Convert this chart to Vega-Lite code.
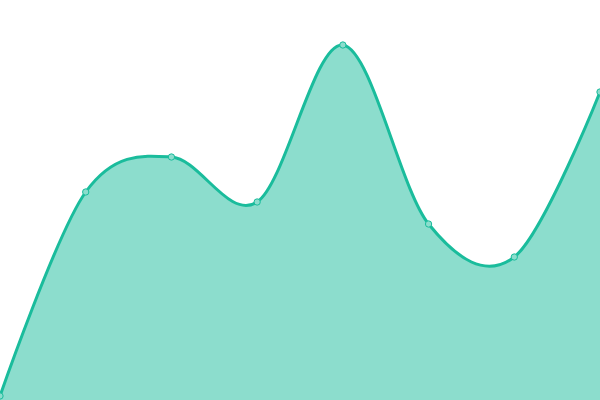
{
  "$schema": "https://vega.github.io/schema/vega-lite/v6.json",
  "width": 600,
  "height": 400,
  "padding": 0,
  "autosize": {"type": "none"},
  "config": {"view": {"stroke": null}},
  "data": {"values": [
    {"i": 0, "v": 4},
    {"i": 1, "v": 208},
    {"i": 2, "v": 243},
    {"i": 3, "v": 198},
    {"i": 4, "v": 355},
    {"i": 5, "v": 176},
    {"i": 6, "v": 143},
    {"i": 7, "v": 308}
  ]},
  "encoding": {
    "x": {"field": "i", "type": "quantitative", "axis": null, "scale": {"domain": [0, 7], "nice": false, "zero": false}},
    "y": {"field": "v", "type": "quantitative", "axis": null, "scale": {"domain": [0, 400], "nice": false}}
  },
  "layer": [
    {"mark": {"type": "area", "interpolate": "cardinal", "color": "#1abc9c", "opacity": 0.5}},
    {"mark": {"type": "line", "interpolate": "cardinal", "color": "#1abc9c", "strokeWidth": 3}},
    {"mark": {"type": "point", "shape": "circle", "filled": true, "size": 40, "fill": "#8cddcd", "stroke": "#1abc9c", "strokeWidth": 1, "opacity": 1}}
  ]
}
